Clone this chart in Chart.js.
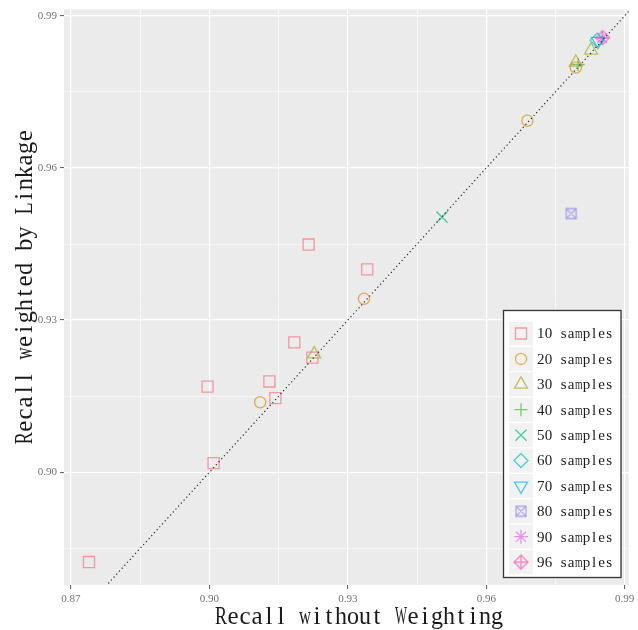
<!DOCTYPE html>
<html>
<head>
<meta charset="utf-8">
<script src="https://cdn.jsdelivr.net/npm/chart.js@4.4.1/dist/chart.umd.min.js"></script>
<style>
  html, body { margin: 0; padding: 0; background: #ffffff; }
  canvas { display: block; }
</style>
</head>
<body>
<canvas id="chart" width="638" height="630"></canvas>
<script>
// Recall per sample group: without weighting (x) vs weighted by linkage (y)
const groupLabels = ['10 samples', '20 samples', '30 samples', '40 samples', '50 samples',
                     '60 samples', '70 samples', '80 samples', '90 samples', '96 samples'];

const without10  = [0.8739, 0.9009, 0.8996, 0.9130, 0.9143, 0.9184, 0.9223, 0.9215, 0.9342];
const weighted10 = [0.8823, 0.9018, 0.9169, 0.9179, 0.9146, 0.9256, 0.9226, 0.9449, 0.9400];
const without20  = [0.9335, 0.9110, 0.9689, 0.9794];
const weighted20 = [0.9342, 0.9138, 0.9693, 0.9798];
const without30  = [0.9227, 0.9794, 0.9827];
const weighted30 = [0.9233, 0.9808, 0.9832];
const without40  = [0.9799];
const weighted40 = [0.9804];
const without50  = [0.9504];
const weighted50 = [0.9503];
const without60  = [0.9840];
const weighted60 = [0.9852];
const without70  = [0.9842];
const weighted70 = [0.9850];
const without80  = [0.9784];
const weighted80 = [0.9510];
const without90  = [0.9851];
const weighted90 = [0.9856];
const without96  = [0.9852];
const weighted96 = [0.9857];

const withoutSeries  = [without10, without20, without30, without40, without50,
                        without60, without70, without80, without90, without96];
const weightedSeries = [weighted10, weighted20, weighted30, weighted40, weighted50,
                        weighted60, weighted70, weighted80, weighted90, weighted96];

// Axis ticks
const xTickValues = [0.87, 0.90, 0.93, 0.96, 0.99];
const xTickLabels = ['0.87', '0.90', '0.93', '0.96', '0.99'];
const xMinorValues = [0.885, 0.915, 0.945, 0.975];
const yTickValues = [0.90, 0.93, 0.96, 0.99];
const yTickLabels = ['0.90', '0.93', '0.96', '0.99'];
const yMinorValues = [0.885, 0.915, 0.945, 0.975];

// Reference line y = x
const identityLine = [0.86, 1.0];

const xTitle = 'Recall without Weighting';
const yTitle = 'Recall weighted by Linkage';

// ---- styling ----
const markerColors = [
  'rgba(240,112,128,0.68)', 'rgba(214,140,20,0.68)', 'rgba(160,168,20,0.68)',
  'rgba(60,182,60,0.68)',   'rgba(0,186,120,0.68)',  'rgba(0,190,196,0.68)',
  'rgba(0,172,240,0.68)',   'rgba(140,130,230,0.68)', 'rgba(226,100,236,0.68)',
  'rgba(250,90,180,0.72)'
];

function markerCanvas(kind, color) {
  const s = 18, m = s / 2;
  const c = document.createElement('canvas');
  c.width = s; c.height = s;
  const g = c.getContext('2d');
  g.strokeStyle = color;
  g.lineWidth = 1.3;
  g.beginPath();
  if (kind === 'squareCross') {
    const h = 5;
    g.rect(m - h, m - h, 2 * h, 2 * h);
    g.moveTo(m - h, m - h); g.lineTo(m + h, m + h);
    g.moveTo(m + h, m - h); g.lineTo(m - h, m + h);
  } else if (kind === 'diamondPlus') {
    const r = 7;
    g.moveTo(m, m - r); g.lineTo(m + r, m); g.lineTo(m, m + r); g.lineTo(m - r, m); g.closePath();
    g.moveTo(m, m - r); g.lineTo(m, m + r);
    g.moveTo(m - r, m); g.lineTo(m + r, m);
  }
  g.stroke();
  return c;
}

const markers = [
  { pointStyle: 'rect', radius: 7.8, rotation: 0 },
  { pointStyle: 'circle', radius: 5.6, rotation: 0 },
  { pointStyle: 'triangle', radius: 7.5, rotation: 0 },
  { pointStyle: 'cross', radius: 6.5, rotation: 0 },
  { pointStyle: 'crossRot', radius: 8, rotation: 0 },
  { pointStyle: 'rectRot', radius: 7, rotation: 0 },
  { pointStyle: 'triangle', radius: 7.5, rotation: 180 },
  { pointStyle: markerCanvas('squareCross', markerColors[7]), radius: 7, rotation: 0 },
  { pointStyle: 'star', radius: 7, rotation: 0 },
  { pointStyle: markerCanvas('diamondPlus', markerColors[9]), radius: 7, rotation: 0 },
];

const serifFont = '"Liberation Serif", "DejaVu Serif", serif';

// Writes text with every glyph centred in a fixed-width cell (typewriter layout),
// narrowing wide glyphs so that they stay inside their cell.
function drawCells(ctx, text, cx, cy, cell, fontPx, squeeze) {
  ctx.save();
  ctx.font = fontPx + 'px ' + serifFont;
  ctx.textAlign = 'center';
  ctx.textBaseline = 'alphabetic';
  const start = cx - (text.length * cell) / 2;
  for (let i = 0; i < text.length; i++) {
    const ch = text[i];
    if (ch === ' ') continue;
    const w = ctx.measureText(ch).width;
    const sx = Math.min(squeeze, (cell * 1.0) / Math.max(w, 1));
    ctx.save();
    ctx.translate(start + (i + 0.5) * cell, cy + fontPx * 0.33);
    ctx.scale(sx, 1);
    ctx.fillText(ch, 0, 0);
    ctx.restore();
  }
  ctx.restore();
}

const datasets = groupLabels.map((label, i) => ({
  label,
  data: withoutSeries[i].map((x, j) => ({ x, y: weightedSeries[i][j] })),
  showLine: false,
  pointStyle: markers[i].pointStyle,
  pointRadius: markers[i].radius,
  pointHoverRadius: markers[i].radius,
  pointRotation: markers[i].rotation,
  pointBorderWidth: 1.3,
  borderColor: markerColors[i],
  backgroundColor: 'rgba(0,0,0,0)',
  order: 2,
}));

datasets.push({
  label: 'y = x',
  type: 'line',
  data: identityLine.map(v => ({ x: v, y: v })),
  borderColor: '#262626',
  borderWidth: 1.2,
  borderDash: [1.2, 2.8],
  pointRadius: 0,
  fill: false,
  order: 1,
});

const near = (a, b) => Math.abs(a - b) < 1e-6;
function tickList(major, minor) {
  return major.concat(minor).sort((a, b) => a - b).map(v => ({ value: v }));
}
function isMajor(v, list) { return list.some(t => near(t, v)); }

// Panel background
const panelBackground = {
  id: 'panelBackground',
  beforeDraw(chart) {
    const { ctx, chartArea: a } = chart;
    ctx.save();
    ctx.fillStyle = '#EBEBEB';
    ctx.fillRect(a.left, a.top, a.right - a.left, a.bottom - a.top);
    ctx.restore();
  }
};

// Axis titles
const axisTitles = {
  id: 'axisTitles',
  afterDraw(chart) {
    const { ctx } = chart;
    ctx.save();
    ctx.fillStyle = '#1a1a1a';
    drawCells(ctx, xTitle, 359, 616, 12, 25, 1.0);
    ctx.translate(24, 287);
    ctx.rotate(-Math.PI / 2);
    drawCells(ctx, yTitle, 0, 0, 12.1, 25, 1.0);
    ctx.restore();
  }
};

// Legend box inside the panel
const panelLegend = {
  id: 'panelLegend',
  afterDraw(chart) {
    const { ctx } = chart;
    const box = { left: 503.5, top: 310.5, right: 621, bottom: 577.5 };
    const rowStep = 25.4, firstRow = 333.5, keyX = 521, textX = 537, cell = 7.6;
    ctx.save();
    ctx.fillStyle = '#ffffff';
    ctx.fillRect(box.left, box.top, box.right - box.left, box.bottom - box.top);
    ctx.strokeStyle = '#333333';
    ctx.lineWidth = 1.3;
    ctx.strokeRect(box.left, box.top, box.right - box.left, box.bottom - box.top);
    groupLabels.forEach((label, i) => {
      const cy = firstRow + i * rowStep;
      ctx.fillStyle = '#F2F2F2';
      ctx.fillRect(keyX - 12, cy - 12, 24, 24);
      ctx.strokeStyle = markerColors[i];
      ctx.fillStyle = 'rgba(0,0,0,0)';
      ctx.lineWidth = 1.3;
      Chart.helpers.drawPoint(ctx, {
        pointStyle: markers[i].pointStyle,
        radius: markers[i].radius,
        rotation: markers[i].rotation,
        borderWidth: 1.3,
      }, keyX, cy);
      ctx.fillStyle = '#1a1a1a';
      drawCells(ctx, label, textX + (label.length * cell) / 2, cy, cell, 15, 1.0);
    });
    ctx.restore();
  }
};

const tickFont = { family: serifFont, size: 11 };

new Chart(document.getElementById('chart'), {
  type: 'scatter',
  data: { datasets },
  options: {
    responsive: false,
    animation: false,
    devicePixelRatio: 1,
    layout: { padding: { top: 8, right: 8, left: 0, bottom: 0 } },
    plugins: { legend: { display: false }, tooltip: { enabled: false } },
    scales: {
      x: {
        type: 'linear',
        min: 0.86849,
        max: 0.99086,
        afterBuildTicks(scale) { scale.ticks = tickList(xTickValues, xMinorValues); },
        afterFit(scale) { scale.height = 45; scale.paddingLeft = 0; scale.paddingRight = 0; },
        ticks: {
          autoSkip: false, maxRotation: 0, minRotation: 0, padding: 4,
          color: '#707070', font: tickFont,
          callback(v) {
            const k = xTickValues.findIndex(t => near(t, v));
            return k >= 0 ? xTickLabels[k] : '';
          }
        },
        grid: {
          color: '#ffffff',
          lineWidth: c => isMajor(c.tick.value, xTickValues) ? 1.2 : 0.6,
          tickColor: c => isMajor(c.tick.value, xTickValues) ? '#555555' : 'rgba(0,0,0,0)',
          tickLength: 4,
          tickWidth: 1,
        },
        border: { display: false },
      },
      y: {
        type: 'linear',
        min: 0.87777,
        max: 0.99128,
        afterBuildTicks(scale) { scale.ticks = tickList(yTickValues, yMinorValues); },
        afterFit(scale) { scale.width = 64; scale.paddingTop = 0; scale.paddingBottom = 0; },
        ticks: {
          autoSkip: false, padding: 3,
          color: '#707070', font: tickFont,
          callback(v) {
            const k = yTickValues.findIndex(t => near(t, v));
            return k >= 0 ? yTickLabels[k] : '';
          }
        },
        grid: {
          color: '#ffffff',
          lineWidth: c => isMajor(c.tick.value, yTickValues) ? 1.2 : 0.6,
          tickColor: c => isMajor(c.tick.value, yTickValues) ? '#555555' : 'rgba(0,0,0,0)',
          tickLength: 4,
          tickWidth: 1,
        },
        border: { display: false },
      }
    }
  },
  plugins: [panelBackground, axisTitles, panelLegend]
});
</script>
</body>
</html>
